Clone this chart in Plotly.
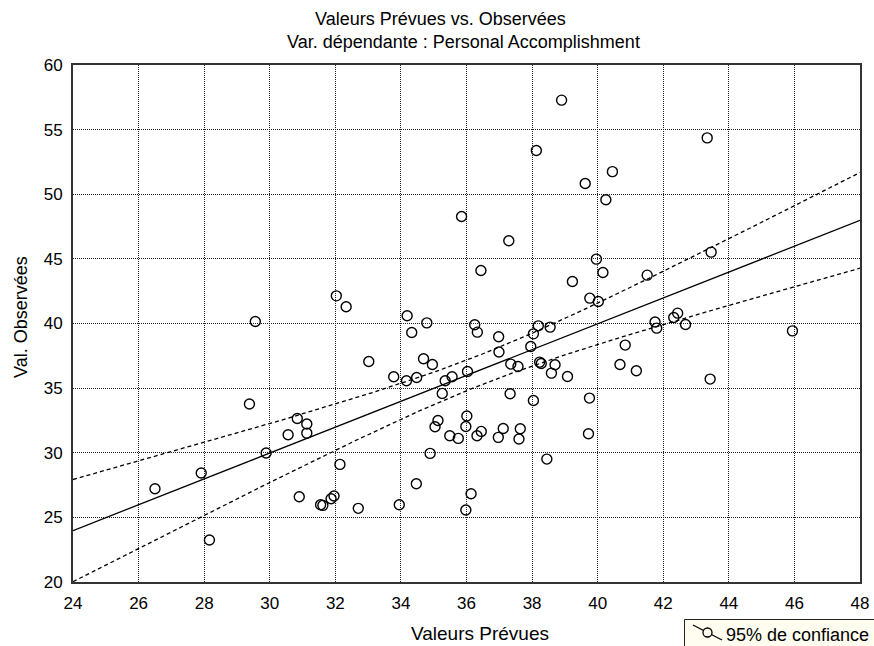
import numpy as np
import plotly.graph_objects as go

predicted = [32.03, 32.33, 29.56, 38.90, 38.13, 40.45, 39.62, 40.25, 35.85, 37.29,
             36.44, 39.96, 40.16, 39.23, 39.76, 40.02, 34.19, 34.79, 36.25, 36.33,
             38.19, 38.55, 43.34, 43.46, 41.51, 42.44, 42.32, 41.75, 42.68, 41.80,
             45.94, 40.84, 40.68, 41.18, 43.43, 29.38, 30.84, 31.13, 31.13, 30.56,
             29.89, 32.14, 27.91, 26.50, 30.90, 31.55, 31.62, 31.87, 31.96, 28.16,
             33.02, 33.78, 34.17, 34.48, 34.33, 34.69, 34.96, 35.35, 35.56, 35.26,
             36.03, 36.98, 36.99, 37.35, 37.57, 37.33, 37.96, 38.04, 38.23, 38.28,
             38.70, 38.59, 39.08, 38.04, 39.75, 39.72, 38.45, 35.13, 35.04, 36.01,
             35.98, 35.49, 35.75, 36.32, 36.45, 36.97, 37.12, 37.64, 37.60, 34.89,
             34.47, 36.14, 32.70, 33.95, 35.98]
observed = [42.14, 41.30, 40.15, 57.28, 53.38, 51.75, 50.83, 49.57, 48.28, 46.40,
            44.10, 44.98, 43.95, 43.25, 41.96, 41.70, 40.60, 40.05, 39.90, 39.33,
            39.82, 39.72, 54.36, 45.52, 43.74, 40.80, 40.46, 40.12, 39.92, 39.64,
            39.43, 38.33, 36.83, 36.34, 35.70, 33.77, 32.65, 32.22, 31.52, 31.39,
            29.98, 29.10, 28.43, 27.22, 26.60, 25.98, 25.93, 26.44, 26.65, 23.25,
            37.06, 35.88, 35.57, 35.82, 39.30, 37.27, 36.83, 35.57, 35.88, 34.59,
            36.29, 38.97, 37.79, 36.86, 36.67, 34.56, 38.22, 39.20, 37.01, 36.91,
            36.81, 36.16, 35.90, 34.04, 34.23, 31.47, 29.51, 32.50, 32.01, 32.84,
            32.03, 31.31, 31.11, 31.31, 31.65, 31.19, 31.88, 31.86, 31.06, 29.95,
            27.60, 26.83, 25.70, 25.98, 25.57]

x_ticks = [24, 26, 28, 30, 32, 34, 36, 38, 40, 42, 44, 46, 48]
y_ticks = [20, 25, 30, 35, 40, 45, 50, 55, 60]

title1 = "Valeurs Prévues vs. Observées"
title2 = "Var. dépendante : Personal Accomplishment"
x_label = "Valeurs Prévues"
y_label = "Val. Observées"
legend_label = "95% de confiance"

# Regression of observed on predicted, with 95% confidence band of the mean
xp = np.array(predicted)
yo = np.array(observed)
n = len(xp)
slope, intercept = np.polyfit(xp, yo, 1)
resid = yo - (slope * xp + intercept)
s = np.sqrt(np.sum(resid ** 2) / (n - 2))
sxx = np.sum((xp - xp.mean()) ** 2)
t95 = 1.986
xs = np.linspace(x_ticks[0], x_ticks[-1], 200)
fit = slope * xs + intercept
hw = t95 * s * np.sqrt(1.0 / n + (xs - xp.mean()) ** 2 / sxx)

FONT = "Liberation Sans, Arial, sans-serif"
W, H = 874, 646
ML, MR, MT, MB = 73, 14, 65, 64
PW, PH = W - ML - MR, H - MT - MB


def px_x(p):
    return (p - ML) / PW


def px_y(p):
    return (H - MB - p) / PH


fig = go.Figure()
for band in (fit + hw, fit - hw):
    fig.add_trace(go.Scatter(x=xs, y=band, mode="lines",
                             line=dict(color="black", width=1.3, dash="4px,3px"),
                             showlegend=False, hoverinfo="skip"))
fig.add_trace(go.Scatter(x=xs, y=fit, mode="lines",
                         line=dict(color="black", width=1.3),
                         showlegend=False, hoverinfo="skip"))
fig.add_trace(go.Scatter(x=predicted, y=observed, mode="markers",
                         marker=dict(symbol="circle-open", size=10,
                                     color="black", line=dict(width=1.4)),
                         showlegend=False))

axis_common = dict(showgrid=True, gridcolor="#222", griddash="1px,1px", gridwidth=1,
                   showline=True, linecolor="#333", linewidth=2, mirror=True,
                   ticks="", zeroline=False,
                   tickfont=dict(family=FONT, size=17, color="black"))

fig.update_xaxes(range=[x_ticks[0], x_ticks[-1]], tickvals=x_ticks,
                 ticklabelstandoff=5, **axis_common)
fig.update_yaxes(range=[y_ticks[0], y_ticks[-1]], tickvals=y_ticks,
                 ticklabelstandoff=5, **axis_common)

annotations = [
    dict(text=title1, x=px_x(440), y=px_y(19.5), xanchor="center", yanchor="middle",
         font=dict(family=FONT, size=18, color="black")),
    dict(text=title2, x=px_x(463), y=px_y(42), xanchor="center", yanchor="middle",
         font=dict(family=FONT, size=18, color="black")),
    dict(text=x_label, x=px_x(480), y=px_y(633), xanchor="center", yanchor="middle",
         font=dict(family=FONT, size=19, color="black")),
    dict(text=y_label, x=px_x(21), y=px_y(317), xanchor="center", yanchor="middle",
         textangle=-90, font=dict(family=FONT, size=18, color="black")),
    dict(text=legend_label, x=px_x(724), y=px_y(635), xanchor="left", yanchor="middle",
         font=dict(family=FONT, size=18, color="black")),
]
for a in annotations:
    a.update(xref="paper", yref="paper", showarrow=False)

shapes = [
    # legend box
    dict(type="rect", x0=px_x(684.5), x1=px_x(884), y0=px_y(619.5), y1=px_y(656),
         fillcolor="#FFFCF0", line=dict(color="#222", width=1), layer="below"),
    # legend symbol: diagonal line with open circle
    dict(type="line", x0=px_x(693), y0=px_y(625), x1=px_x(722), y1=px_y(640),
         line=dict(color="black", width=1.3)),
    dict(type="circle", x0=px_x(703), x1=px_x(712), y0=px_y(628), y1=px_y(637),
         fillcolor="#FFFCF0", line=dict(color="black", width=1.3)),
]
for sh in shapes:
    sh.update(xref="paper", yref="paper")

fig.update_layout(
    width=W, height=H,
    margin=dict(l=ML, r=MR, t=MT, b=MB, autoexpand=False),
    paper_bgcolor="white", plot_bgcolor="white",
    font=dict(family=FONT, size=17, color="black"),
    showlegend=False,
    annotations=annotations,
    shapes=shapes,
)

fig.write_html("out.html")
